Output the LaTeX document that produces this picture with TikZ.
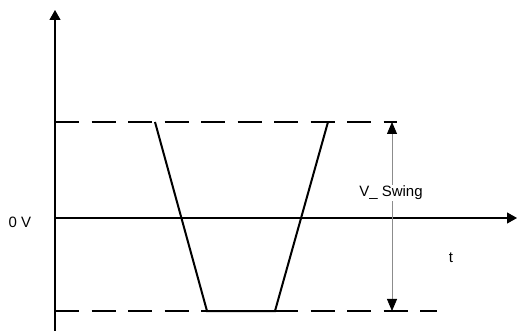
\documentclass[tikz,border=0pt]{standalone}
\usepackage{fontspec}
\setmainfont{Liberation Sans}
\usetikzlibrary{arrows.meta}
\begin{document}
\begin{tikzpicture}[x=1pt,y=-1pt,
  axis/.style={line width=1.1pt,-{Triangle[length=10pt,width=11pt]}},
  levelline/.style={line width=2.2pt,dash pattern=on 24pt off 12.5pt},
  signal/.style={line width=2pt,line join=miter},
  dimline/.style={line width=0.8pt,draw=black!45,{Triangle[length=12pt,width=10pt,fill=black,color=black]}-{Triangle[length=12pt,width=10pt,fill=black,color=black]}},
  lbl/.style={font=\fontsize{15pt}{17pt}\selectfont,inner sep=1pt}]
\useasboundingbox (0,0) rectangle (517,331);
% axes
\coordinate (yb) at (55,331);
\coordinate (yt) at (55,10);
\coordinate (xl) at (55,218);
\coordinate (xr) at (517,218);
\draw[axis] (yb) -- (yt);
\draw[axis] (xl) -- (xr);
% level lines
\coordinate (hl) at (55,122);
\coordinate (hr) at (397,122);
\coordinate (ll) at (55,311);
\coordinate (lr) at (437,311);
\draw[levelline] (hl) -- (hr);
\draw[levelline] (ll) -- (lr);
% signal
\coordinate (s1) at (155,122);
\coordinate (s2) at (207,311);
\coordinate (s3) at (275,311);
\coordinate (s4) at (328,122);
\draw[signal] (s1) -- (s2) -- (s3) -- (s4);
% swing dimension
\coordinate (dt) at (392,122);
\coordinate (db) at (392,311);
\draw[dimline] (dt) -- (db);
\node[lbl,fill=white] (vs) at (391,193) {V\_ Swing};
\node[lbl] (zv) at (20,222) {0 V};
\node[lbl] (tl) at (451,258) {t};
\end{tikzpicture}
\end{document}
